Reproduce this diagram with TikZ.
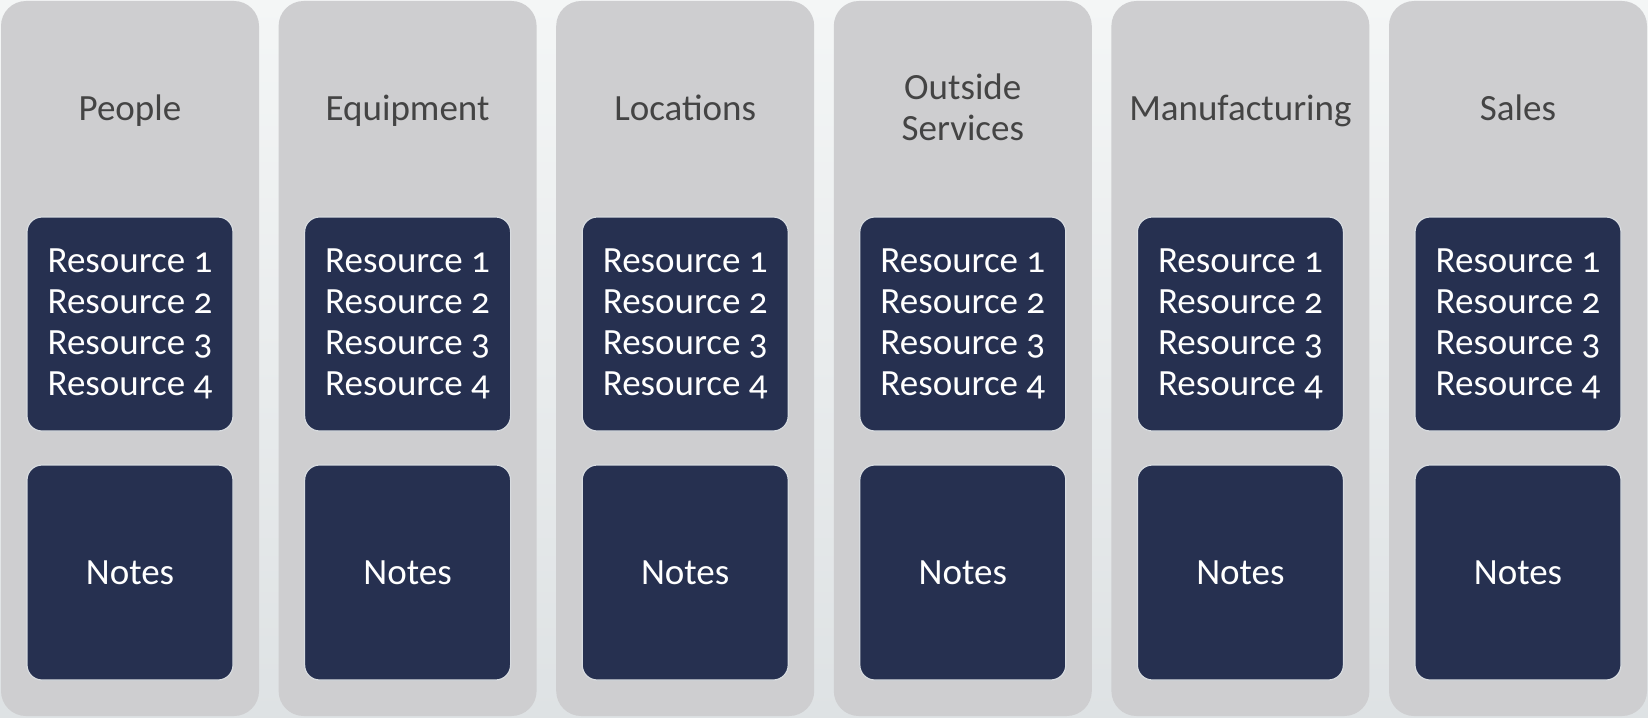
\documentclass[tikz,border=0pt]{standalone}
\usepackage{fontspec}
\setmainfont{Carlito}[Numbers=OldStyle]
\definecolor{bgtop}{HTML}{F4F6F6}
\definecolor{bgbot}{HTML}{DEE2E4}
\definecolor{colgray}{HTML}{CECED0}
\definecolor{darkbox}{HTML}{263050}
\definecolor{titlegray}{HTML}{444444}
\definecolor{edgegray}{HTML}{D8DCE0}
\begin{document}
\begin{tikzpicture}[x=1pt,y=-1pt,
  column/.style={rectangle,rounded corners=25pt,fill=colgray,minimum width=258pt,minimum height=715pt,inner sep=0pt},
  title/.style={text=titlegray,align=center,inner sep=0pt,font=\fontsize{37}{41}\selectfont},
  resbox/.style={rectangle,rounded corners=15pt,fill=darkbox,draw=edgegray,line width=1.2pt,minimum width=206pt,minimum height=214pt,inner sep=0pt,text=white,align=center,font=\fontsize{37}{41}\selectfont},
  notebox/.style={resbox,minimum height=215pt}]
\useasboundingbox (0,0) rectangle (1648,717);
\shade[top color=bgtop,bottom color=bgbot] (0,0) rectangle (1648,717);
\foreach \i/\t in {1/People,2/Equipment,3/Locations,4/{Outside\\\strut Services},5/Manufacturing,6/Sales}{
  \pgfmathsetmacro\cx{130+277.6*(\i-1)}
  \node[column] (col\i) at (\cx,358.5) {};
  \node[title] (t\i) at (\cx,112) {\strut\t};
  \node[resbox] (r\i) at (\cx,324) {Resource 1\\Resource 2\\Resource 3\\Resource 4};
  \node[notebox] (n\i) at (\cx,572.5) {Notes};
}
\end{tikzpicture}
\end{document}
